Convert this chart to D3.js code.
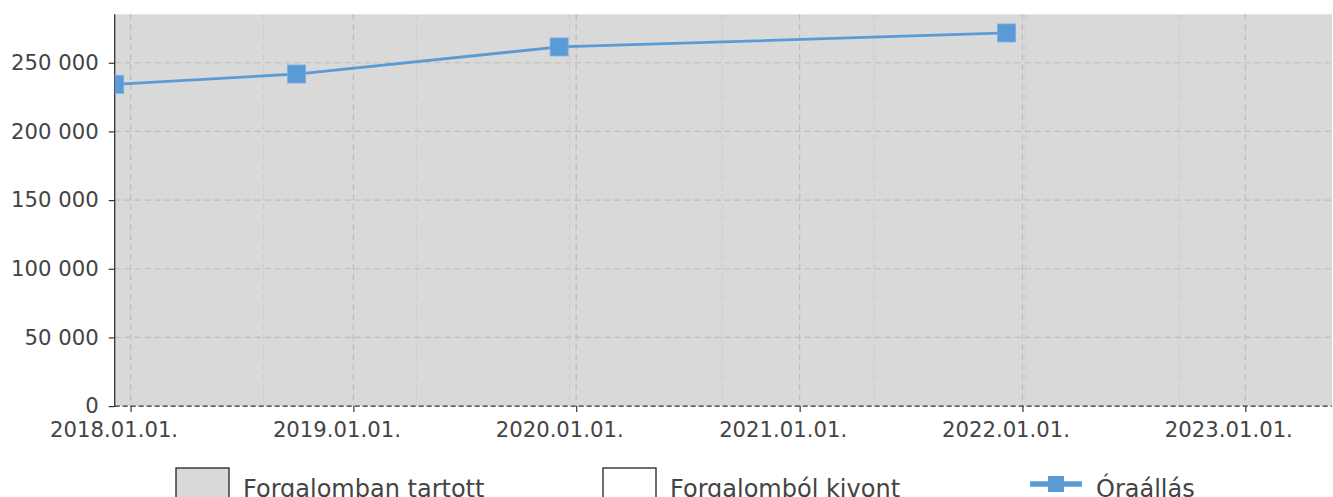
<!DOCTYPE html>
<meta charset="utf-8">
<style>
  body { margin: 0; background: #fff; }
  svg { display: block; font-family: "DejaVu Sans", sans-serif; }
  .tick text { fill: #444; font-size: 21.2px; font-family: "DejaVu Sans", sans-serif; }
  .tick line { stroke: #333; stroke-width: 1.2; }
  .legend text { fill: #444; font-size: 24px; }
</style>
<svg width="1333" height="497"></svg>
<script src="https://d3js.org/d3.v7.min.js"></script>
<script>

// data
var dates = ["2017-12-06", "2018-09-30", "2019-12-04", "2021-12-06"];
var values = [234300, 241800, 261500, 271700];
var periodStart = "2017-12-06",
    periodEnd = "2023-05-23";
var yTicks = [0, 50000, 100000, 150000, 200000, 250000];
var xTicks = ["2018-01-01", "2019-01-01", "2020-01-01", "2021-01-01", "2022-01-01", "2023-01-01"];
var minorTicks = ["2018-08-07", "2019-04-14", "2019-12-21", "2020-08-27", "2021-05-03", "2022-01-06", "2022-09-15"];
var legendLabels = ["Forgalomban tartott", "Forgalomból kivont", "Óraállás"];

var svg = d3.select("svg"),
    plotLeft = 114.7, plotRight = 1332, plotTop = 14.3, plotBottom = 406.1,
    blue = "#5b9bd5";

var parse = d3.utcParse("%Y-%m-%d");

var x = d3.scaleUtc()
    .domain([parse(periodStart), parse(periodEnd)])
    .range([plotLeft, plotRight]);

var y = d3.scaleLinear()
    .domain([0, d3.max(values) * 1.05])
    .range([plotBottom, plotTop]);

var points = dates.map(function(d, i) { return {date: parse(d), value: values[i]}; });

svg.append("clipPath").attr("id", "plot")
  .append("rect")
    .attr("x", plotLeft).attr("y", plotTop)
    .attr("width", plotRight - plotLeft).attr("height", plotBottom - plotTop);

// in service period
svg.append("rect")
    .attr("x", x(parse(periodStart)))
    .attr("y", plotTop)
    .attr("width", x(parse(periodEnd)) - x(parse(periodStart)))
    .attr("height", plotBottom - plotTop)
    .attr("fill", "#d9d9d9");

// grid
var grid = svg.append("g").attr("fill", "none");

grid.selectAll(".minor")
  .data(minorTicks)
  .enter().append("line")
    .attr("x1", function(d) { return x(parse(d)); })
    .attr("x2", function(d) { return x(parse(d)); })
    .attr("y1", plotTop).attr("y2", plotBottom)
    .attr("stroke", "#cbcbcb")
    .attr("stroke-width", 1)
    .attr("stroke-dasharray", "6,4");

grid.selectAll(".vmajor")
  .data(xTicks)
  .enter().append("line")
    .attr("x1", function(d) { return x(parse(d)); })
    .attr("x2", function(d) { return x(parse(d)); })
    .attr("y1", plotTop).attr("y2", plotBottom)
    .attr("stroke", "#bdbdbd")
    .attr("stroke-width", 1.2)
    .attr("stroke-dasharray", "6,4");

grid.selectAll(".hmajor")
  .data(yTicks.slice(1))
  .enter().append("line")
    .attr("x1", plotLeft).attr("x2", plotRight)
    .attr("y1", function(d) { return y(d); })
    .attr("y2", function(d) { return y(d); })
    .attr("stroke", "#bdbdbd")
    .attr("stroke-width", 1.2)
    .attr("stroke-dasharray", "6,4");

// axes
var yAxis = svg.append("g")
    .attr("transform", "translate(" + plotLeft + ",0)")
    .call(d3.axisLeft(y)
      .tickValues(yTicks)
      .tickSize(6)
      .tickPadding(10)
      .tickFormat(function(d) { return d3.format(",")(d).replace(/,/g, " "); }));
yAxis.select(".domain").remove();

var xAxis = svg.append("g")
    .attr("transform", "translate(0," + plotBottom + ")")
    .call(d3.axisBottom(x)
      .tickValues(xTicks.map(parse))
      .tickSize(6)
      .tickPadding(10)
      .tickFormat(d3.utcFormat("%Y.%m.%d.")));
xAxis.select(".domain").remove();
xAxis.selectAll(".tick text").attr("dx", -17);
svg.selectAll("g[font-family]").attr("font-family", null).attr("font-size", null);

svg.append("line")
    .attr("x1", plotLeft).attr("x2", plotRight)
    .attr("y1", plotBottom).attr("y2", plotBottom)
    .attr("stroke", "#333")
    .attr("stroke-width", 1.2)
    .attr("stroke-dasharray", "5,3");

svg.append("line")
    .attr("x1", plotLeft).attr("x2", plotLeft)
    .attr("y1", plotTop).attr("y2", plotBottom + 0.6)
    .attr("stroke", "#333")
    .attr("stroke-width", 1.3);

// odometer series
var plot = svg.append("g").attr("clip-path", "url(#plot)");

plot.append("path")
    .datum(points)
    .attr("fill", "none")
    .attr("stroke", blue)
    .attr("stroke-width", 2.8)
    .attr("d", d3.line()
      .x(function(d) { return x(d.date); })
      .y(function(d) { return y(d.value); }));

plot.selectAll(".marker")
  .data(points)
  .enter().append("rect")
    .attr("x", function(d) { return x(d.date) - 9; })
    .attr("y", function(d) { return y(d.value) - 9; })
    .attr("width", 18).attr("height", 18)
    .attr("fill", blue)
    .attr("stroke", "#7aaee0")
    .attr("stroke-width", 0.8);

// legend
var legendX = [176, 603, 1030];
var legend = svg.append("g").attr("class", "legend");

var item = legend.selectAll("g")
  .data(legendLabels)
  .enter().append("g")
    .attr("transform", function(d, i) { return "translate(" + legendX[i] + ",484)"; });

item.filter(function(d, i) { return i < 2; })
  .append("rect")
    .attr("x", 0).attr("y", -16)
    .attr("width", 53).attr("height", 34)
    .attr("fill", function(d, i) { return i === 0 ? "#d9d9d9" : "#fff"; })
    .attr("stroke", "#222")
    .attr("stroke-width", 1.3);

var lineItem = item.filter(function(d, i) { return i === 2; });
lineItem.append("line")
    .attr("x1", 0).attr("x2", 52)
    .attr("stroke", blue)
    .attr("stroke-width", 5.5);
lineItem.append("rect")
    .attr("x", 26 - 8).attr("y", -8)
    .attr("width", 16).attr("height", 16)
    .attr("fill", blue);

item.append("text")
    .attr("x", function(d, i) { return i === 2 ? 66 : 67; })
    .attr("y", 13)
    .text(function(d) { return d; });

</script>
